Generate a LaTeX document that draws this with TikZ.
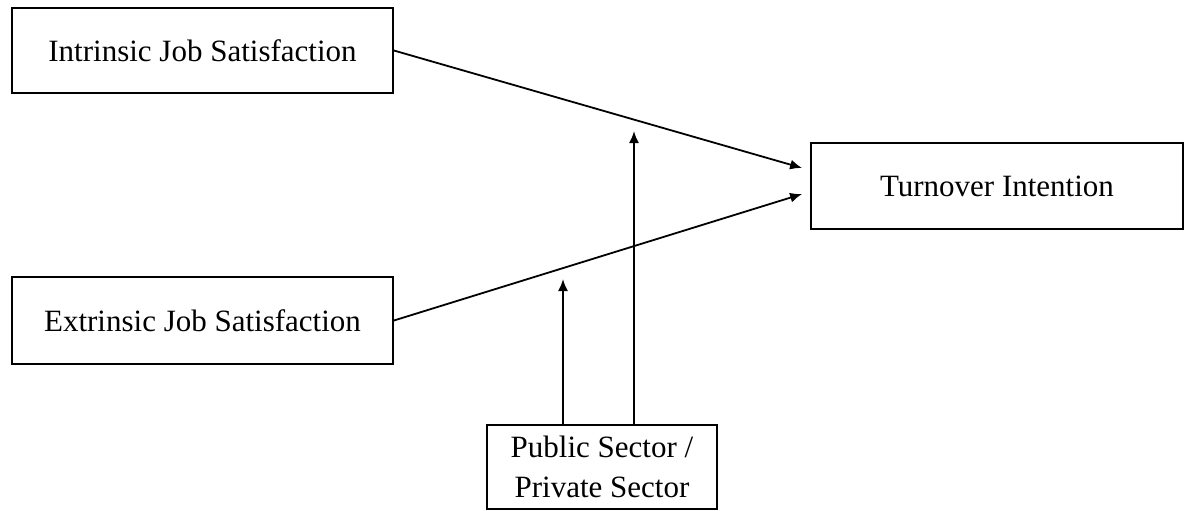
\documentclass[tikz,border=0pt]{standalone}
\usepackage{fontspec}
\setmainfont{Liberation Serif}
\usetikzlibrary{arrows.meta,calc,positioning}

\begin{document}
\begin{tikzpicture}[x=0.5pt,y=-0.5pt,
  varbox/.style={draw, line width=0.9pt, inner sep=0pt, align=center,
    font=\fontsize{15.5}{20}\selectfont},
  link/.style={-{Latex[length=6pt,width=5pt]}, line width=0.9pt}]
  % frame of the picture, one unit per pixel
  \useasboundingbox (0,0) rectangle (1185,510);

  % The four variables
  \node[varbox, minimum width=190.5pt, minimum height=42.5pt] (intr) at (202.5,50.5) {Intrinsic Job Satisfaction};
  \node[varbox, minimum width=190.5pt, minimum height=43.5pt] (extr) at (202.5,320.5) {Extrinsic Job Satisfaction};
  \node[varbox, minimum width=186pt, minimum height=43pt] (turn) at (997,186) {Turnover Intention};
  \node[varbox, minimum width=115pt, minimum height=42pt] (sect) at (602,467) {Public Sector /\\ Private Sector};

  % Direct effects
  \draw[link] (intr.east) -- ([xshift=-4pt,yshift=9pt]turn.west);
  \draw[link] (extr.east) -- ([xshift=-4pt,yshift=-4pt]turn.west);

  % Moderation by sector
  \coordinate (modext) at (563,279);
  \coordinate (modint) at (634,131);
  \draw[link] (sect.north -| modext) -- (modext);
  \draw[link] (sect.north -| modint) -- (modint);
\end{tikzpicture}
\end{document}
